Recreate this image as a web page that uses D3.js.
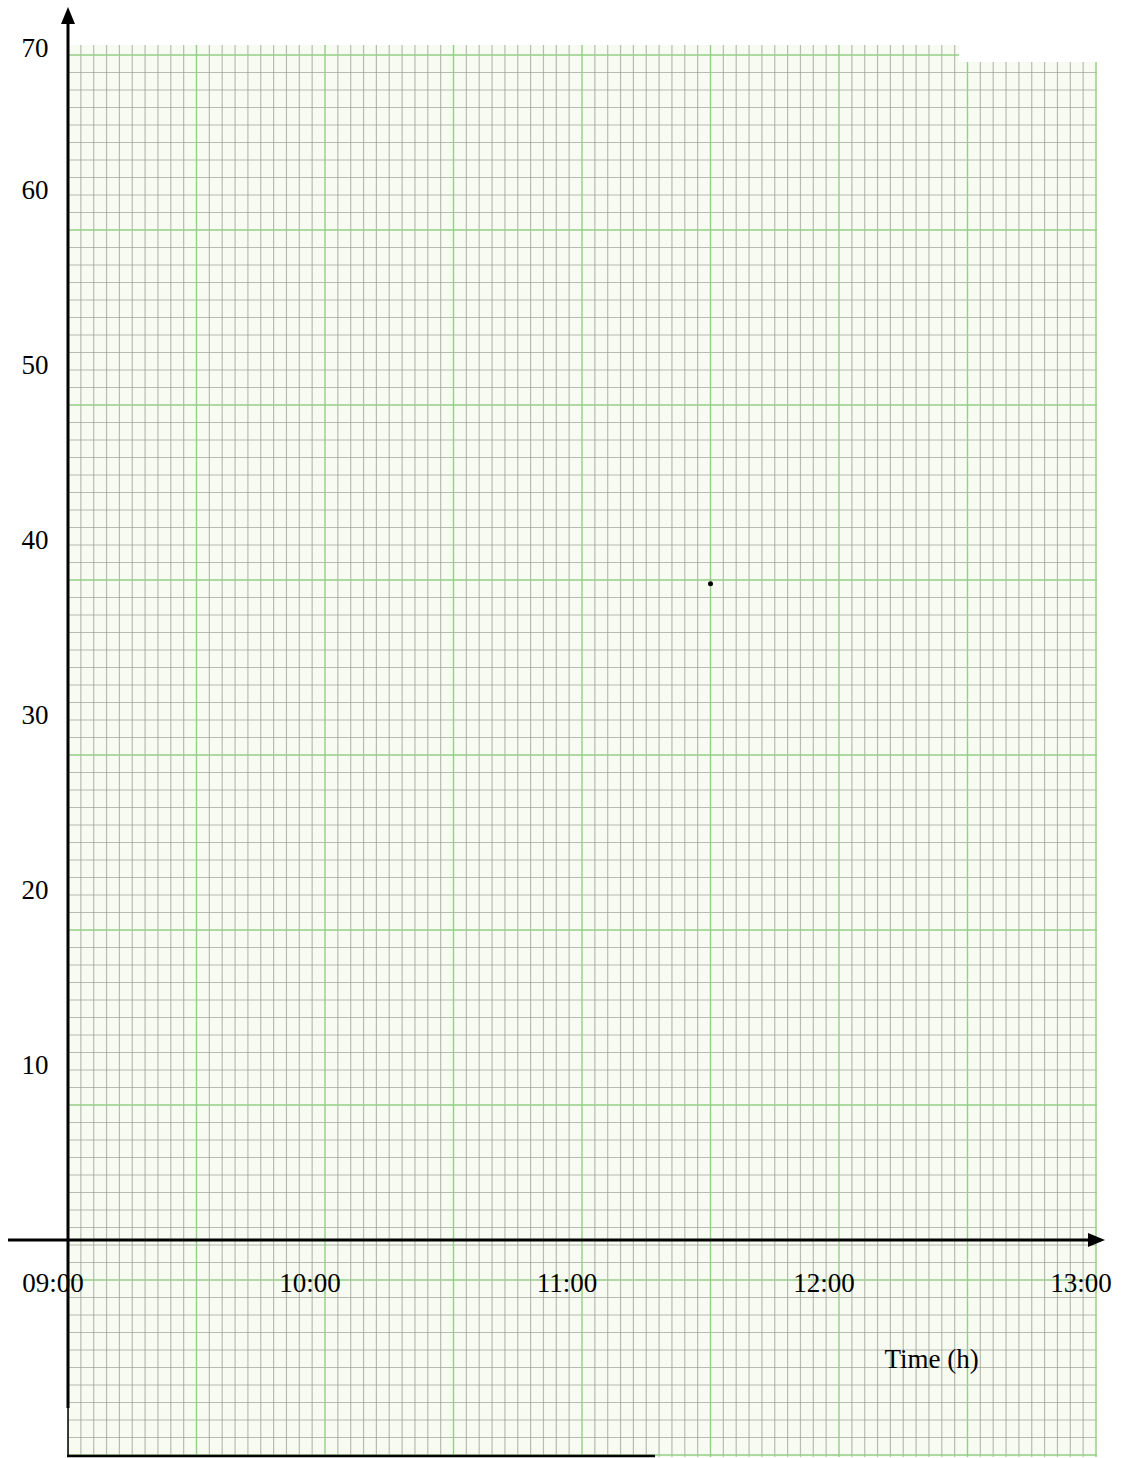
<!DOCTYPE html>
<html>
<head>
<meta charset="utf-8">
<script src="https://cdn.jsdelivr.net/npm/d3@7"></script>
<style>
  html, body { margin: 0; padding: 0; background: #fff; }
  svg { display: block; }
  text { font-family: "Liberation Serif", "Times New Roman", serif; fill: #000; }
</style>
</head>
<body>
<svg id="chart" width="1137" height="1458"></svg>
<script>
// ---- data ----
const xTickValues = [9, 10, 11, 12, 13];
const xTickLabels = ["09:00", "10:00", "11:00", "12:00", "13:00"];
const yTickValues = [10, 20, 30, 40, 50, 60, 70];
const yTickLabels = ["10", "20", "30", "40", "50", "60", "70"];
const pointTimes = [11.5];
const pointValues = [37.5];
const xTitle = "Time (h)";

// ---- layout ----
const W = 1137, H = 1458;
const svg = d3.select("#chart");

const x = d3.scaleLinear().domain([9, 13]).range([68, 1096]);
const y = d3.scaleLinear().domain([0, 70]).range([1240, 15]);

const paper = { x0: 68, x1: 1097, y0: 45, y1: 1457 };

// paper background
svg.append("rect")
  .attr("x", paper.x0).attr("y", paper.y0)
  .attr("width", paper.x1 - paper.x0).attr("height", paper.y1 - paper.y0)
  .attr("fill", "#f7fbf2");

const defs = svg.append("defs");
defs.append("clipPath").attr("id", "paperClip")
  .append("rect")
  .attr("x", paper.x0).attr("y", paper.y0)
  .attr("width", paper.x1 - paper.x0).attr("height", paper.y1 - paper.y0);

const grid = svg.append("g").attr("clip-path", "url(#paperClip)");

// vertical paper lines every 3 minutes, major every 30 min
const vMinor = d3.range(0, 81).map(i => 9 + i * 0.05);
grid.selectAll("line.vmin").data(vMinor.filter((d, i) => i % 10 !== 0)).join("line")
  .attr("x1", d => x(d)).attr("x2", d => x(d))
  .attr("y1", paper.y0).attr("y2", paper.y1)
  .attr("stroke", "#959a91").attr("stroke-opacity", 0.65).attr("stroke-width", 1.2);

// horizontal paper lines (paper offset relative to data grid)
const paperOffset = 0.714;
const hLines = d3.range(-13, 71).map(n => ({ n, v: n + paperOffset }));
grid.selectAll("line.hmin").data(hLines.filter(d => ((d.n % 10) + 10) % 10 !== 7)).join("line")
  .attr("x1", paper.x0).attr("x2", paper.x1)
  .attr("y1", d => y(d.v)).attr("y2", d => y(d.v))
  .attr("stroke", "#959a91").attr("stroke-opacity", 0.65).attr("stroke-width", 1.2);

grid.selectAll("line.vmaj").data(vMinor.filter((d, i) => i % 10 === 0)).join("line")
  .attr("x1", d => x(d)).attr("x2", d => x(d))
  .attr("y1", paper.y0).attr("y2", paper.y1)
  .attr("stroke", "#93cf86").attr("stroke-width", 1.4);

grid.selectAll("line.hmaj").data(hLines.filter(d => ((d.n % 10) + 10) % 10 === 7)).join("line")
  .attr("x1", paper.x0).attr("x2", paper.x1)
  .attr("y1", d => y(d.v)).attr("y2", d => y(d.v))
  .attr("stroke", "#93cf86").attr("stroke-width", 1.4);

// torn top-right corner of the paper
svg.append("rect").attr("x", 959).attr("y", paper.y0 - 1)
  .attr("width", W - 959).attr("height", 18).attr("fill", "#fff");

// ---- axes ----
const axisY = y(0);
// x axis
svg.append("line")
  .attr("x1", 8).attr("x2", 1092).attr("y1", axisY).attr("y2", axisY)
  .attr("stroke", "#000").attr("stroke-width", 3);
svg.append("path")
  .attr("d", `M1105,${axisY} L1088,${axisY - 7} L1088,${axisY + 7} Z`)
  .attr("fill", "#000");

// y axis
svg.append("line")
  .attr("x1", x(9)).attr("x2", x(9)).attr("y1", 20).attr("y2", 1408)
  .attr("stroke", "#000").attr("stroke-width", 3);
svg.append("path")
  .attr("d", `M${x(9)},7 L${x(9) - 7},24 L${x(9) + 7},24 Z`)
  .attr("fill", "#000");
// paper edge lines at bottom left
svg.append("line")
  .attr("x1", x(9)).attr("x2", x(9)).attr("y1", 1408).attr("y2", 1457)
  .attr("stroke", "#000").attr("stroke-width", 1.5);
svg.append("line")
  .attr("x1", x(9) - 1).attr("x2", 655).attr("y1", 1456).attr("y2", 1456)
  .attr("stroke", "#000").attr("stroke-width", 2.5);

// y tick labels
svg.selectAll("text.ylab").data(yTickValues).join("text")
  .attr("class", "ylab")
  .attr("x", 35)
  .attr("y", d => Math.max(y(d), paper.y0 + 3))
  .attr("dy", "0.35em")
  .attr("text-anchor", "middle")
  .attr("font-size", 27)
  .text((d, i) => yTickLabels[i]);

// x tick labels
svg.selectAll("text.xlab").data(xTickValues).join("text")
  .attr("class", "xlab")
  .attr("x", d => x(d) - 15)
  .attr("y", 1292)
  .attr("text-anchor", "middle")
  .attr("font-size", 27)
  .text((d, i) => xTickLabels[i]);

// axis title
svg.append("text")
  .attr("x", x(12.36))
  .attr("y", 1368)
  .attr("text-anchor", "middle")
  .attr("font-size", 27)
  .text(xTitle);

// data point(s)
svg.selectAll("circle.pt").data(pointTimes).join("circle")
  .attr("cx", d => x(d))
  .attr("cy", (d, i) => y(pointValues[i]))
  .attr("r", 2.5)
  .attr("fill", "#000");
</script>
</body>
</html>
